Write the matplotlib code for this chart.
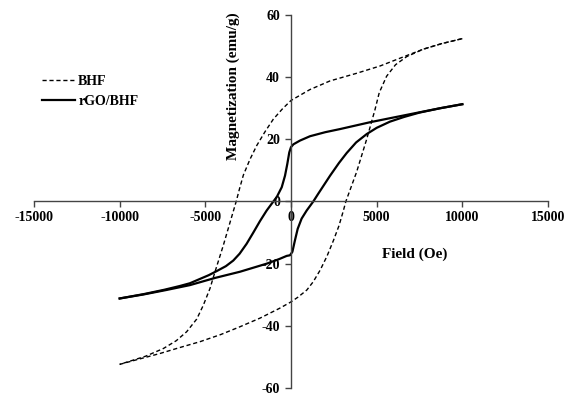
import matplotlib
matplotlib.use("Agg")
import matplotlib.pyplot as plt

# BHF loop, descending branch (+H -> -H) and ascending branch (-H -> +H)
bhf_down_h = [10000, 8800, 7720, 6500, 5200, 3800, 2280, 1100, 0, -500, -1030, -1500, -2000, -2400,
              -2780, -3000, -3200, -3600, -3950, -4440, -4730, -5120, -5500, -6090, -6700, -7450, -8500, -10000]
bhf_down_m = [52.4, 50.8, 49.0, 46.4, 43.6, 41.2, 38.8, 36.0, 32.5, 29.8, 26.5, 22.6, 18.0, 13.5,
              8.5, 4.2, 0.0, -7.5, -14.1, -22.7, -28.0, -33.4, -37.8, -41.9, -44.8, -47.3, -49.8, -52.4]
bhf_up_h = [-10000, -8800, -7650, -6500, -5310, -4100, -2980, -1800, -680, 0, 400, 920, 1300, 1700, 2100,
            2480, 2800, 3060, 3200, 3830, 4420, 4900, 5150, 5580, 6100, 6750, 7720, 8800, 10000]
bhf_up_m = [-52.4, -50.6, -48.9, -47.0, -45.1, -42.8, -40.3, -37.5, -34.4, -32.3, -30.8, -28.5, -25.8, -22.1, -17.6,
            -12.5, -7.8, -2.9, 0.0, 9.5, 20.1, 29.5, 35.0, 40.3, 44.0, 46.6, 49.0, 50.8, 52.4]

# rGO/BHF loop
rgo_down_h = [10000, 8700, 7140, 5780, 4610, 2860, 2000, 1110, 525, 140, 0, -100, -215, -350, -540, -835,
              -1030, -1420, -1810, -2200, -2590, -3000, -3370, -3800, -4340, -4800, -5310, -5900, -6500,
              -7400, -8600, -10000]
rgo_down_m = [31.3, 30.0, 28.3, 26.8, 25.5, 23.3, 22.3, 21.0, 19.6, 18.4, 17.5, 15.8, 12.1, 8.3, 4.6, 1.4,
              0.0, -2.9, -6.3, -10.0, -13.6, -16.8, -19.0, -20.8, -22.4, -23.7, -24.9, -26.3, -27.2,
              -28.4, -29.8, -31.2]
rgo_up_h = [-10000, -8600, -7300, -5900, -4440, -2980, -1420, -680, -250, -60, 80, 230, 390, 620, 915, 1300,
            1590, 2280, 2800, 3250, 3800, 4420, 5000, 5780, 6600, 7500, 8700, 10000]
rgo_up_m = [-31.2, -29.9, -28.5, -26.9, -24.6, -22.6, -20.0, -18.5, -17.5, -17.3, -16.2, -12.5, -8.8, -5.5, -2.9, 0.0,
            2.5, 8.3, 12.4, 15.6, 19.0, 21.7, 23.7, 25.7, 27.2, 28.6, 30.0, 31.3]

xticks = [-15000, -10000, -5000, 0, 5000, 10000, 15000]
yticks = [-60, -40, -20, 0, 20, 40, 60]

plt.rcParams['font.family'] = ['Liberation Serif', 'DejaVu Serif']
plt.rcParams['font.weight'] = 'bold'
plt.rcParams['axes.unicode_minus'] = False

fig = plt.figure(figsize=(5.73, 3.94), dpi=100)
ax = fig.add_axes([34 / 573, 1 - 388 / 394, 514 / 573, 373 / 394])

dash = (0, (3, 2))
ax.plot(bhf_down_h, bhf_down_m, color='black', linewidth=1.0, linestyle=dash, label='BHF')
ax.plot(bhf_up_h, bhf_up_m, color='black', linewidth=1.0, linestyle=dash)
ax.plot(rgo_down_h, rgo_down_m, color='black', linewidth=1.6, label='rGO/BHF')
ax.plot(rgo_up_h, rgo_up_m, color='black', linewidth=1.6)

ax.set_xlim(-15000, 15000)
ax.set_ylim(-60, 60)
ax.spines['left'].set_position(('data', 0))
ax.spines['bottom'].set_position(('data', 0))
ax.spines['top'].set_visible(False)
ax.spines['right'].set_visible(False)
for s in ['left', 'bottom']:
    ax.spines[s].set_color('#444444')
    ax.spines[s].set_linewidth(1.0)

ax.set_xticks(xticks)
ax.set_xticklabels([str(v) for v in xticks])
ax.set_yticks(yticks)
ax.set_yticklabels([str(v) for v in yticks])
ax.tick_params(axis='both', direction='out', length=4, width=1.0, color='#444444', labelsize=10)
ax.tick_params(axis='y', pad=4)
ax.tick_params(axis='x', pad=3)

ax.text((233 - 34) / 514, 1 - (86 - 15) / 373, "Magnetization (emu/g)", rotation=90,
        ha='center', va='center', fontsize=11, fontweight='bold', transform=ax.transAxes)
ax.text((415 - 34) / 514, 1 - (254 - 15) / 373, "Field (Oe)",
        ha='center', va='center', fontsize=11, fontweight='bold', transform=ax.transAxes)

ax.legend(loc='center left', bbox_to_anchor=(42 / 573, 1 - 91.5 / 394), bbox_transform=fig.transFigure,
          frameon=False, fontsize=10, handlelength=2.4, handletextpad=0.2, borderpad=0,
          borderaxespad=0, labelspacing=0.5)

fig.savefig('out.png', dpi=100)
